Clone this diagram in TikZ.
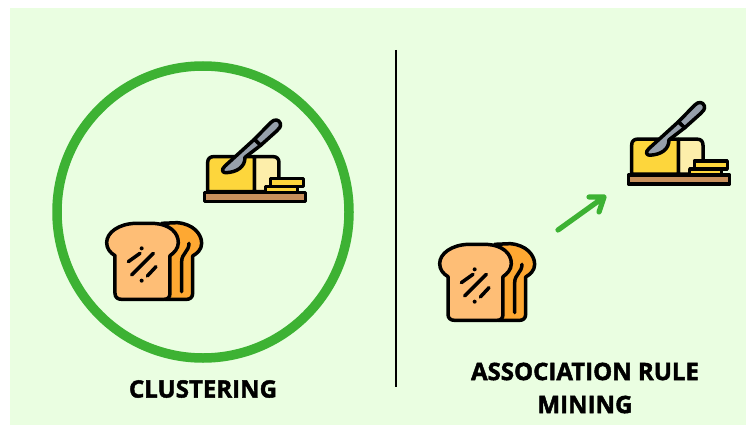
\documentclass[tikz,border=0pt]{standalone}
\usepackage{fontspec}
\setmainfont{Open Sans}[BoldFeatures={FakeBold=1.8}]
\usepackage{tikz}
\usetikzlibrary{arrows.meta, positioning}

\definecolor{panelgreen}{HTML}{EAFEE1}
\definecolor{ringgreen}{HTML}{3DB233}
\definecolor{crustorange}{HTML}{FEA832}
\definecolor{breadtan}{HTML}{FEBE76}
\definecolor{butteryellow}{HTML}{FDD63C}
\definecolor{butterpale}{HTML}{FDEEAA}
\definecolor{boardbrown}{HTML}{C78F5B}
\definecolor{knifegrey}{HTML}{969FAB}

\tikzset{
    ink/.style={draw=black, line width=3.5pt, line join=round, line cap=round},
    caption/.style={font=\fontsize{24}{33}\selectfont\bfseries, align=center, inner sep=0pt},
    toast/.pic={
        \begin{scope}[x=0.3333pt, y=-0.3333pt]
            % back slice
            \path[ink, fill=crustorange] (215,40) -- (262,38) .. controls (310,42) and (335,72) .. (335,100)
                .. controls (335,118) and (322,130) .. (308,138) -- (308,250)
                .. controls (308,262) and (300,268) .. (290,268) -- (225,268) -- cycle;
            \path[ink] (297,100) .. controls (297,125) and (275,130) .. (275,155) -- (275,245);
            % front slice
            \path[ink, fill=breadtan] (135,40) -- (188,40) .. controls (240,42) and (265,68) .. (265,98)
                .. controls (265,115) and (253,128) .. (240,137) -- (240,250)
                .. controls (240,262) and (233,268) .. (222,268) -- (95,268)
                .. controls (83,268) and (75,262) .. (75,250) -- (75,137)
                .. controls (60,128) and (50,115) .. (50,98)
                .. controls (50,68) and (85,42) .. (135,40) -- cycle;
            % crumbs
            \path[ink] (115,155) -- (150,130);
            \path[ink] (125,195) -- (190,130);
            \path[ink] (172,198) -- (198,170);
            \fill (155,115) circle (6);
            \fill (155,212) circle (6);
        \end{scope}
    },
    butterdish/.pic={
        \begin{scope}[x=0.3333pt, y=-0.3333pt]
            % block
            \path[ink, fill=butterpale] (178,140) -- (235,140) .. controls (246,140) and (252,147) .. (252,158)
                -- (252,245) -- (178,245) -- cycle;
            \path[ink, fill=butteryellow] (178,140) -- (55,140) .. controls (44,140) and (38,147) .. (38,158)
                -- (38,245) -- (178,245) -- cycle;
            % pats
            \path[ink, fill=butteryellow] (226,206) rectangle (325,229);
            \path[ink, fill=butteryellow] (212,229) rectangle (308,247);
            % board
            \path[ink, fill=boardbrown] (28,248) rectangle (332,274);
            % knife
            \path[ink, fill=knifegrey] (178,88) -- (227,38) .. controls (238,26) and (252,28) .. (256,40)
                .. controls (259,50) and (252,56) .. (245,63) -- (197,106) -- cycle;
            \path[ink, fill=knifegrey] (178,88) -- (90,168) .. controls (76,180) and (84,190) .. (95,188)
                .. controls (125,186) and (150,172) .. (150,142) -- (197,106) -- cycle;
        \end{scope}
    }
}

\begin{document}
\begin{tikzpicture}[x=1pt, y=-1pt]
    \useasboundingbox (0,0) rectangle (746,425);
    \fill[panelgreen] (10,8) rectangle (746,425);

    % left half
    \draw[ringgreen, line width=9.5pt] (203,212) circle (146);
    \pic at (90,210) {toast};
    \pic at (195,110) {butterdish};
    \node[caption] (clustering) at (203,389) {CLUSTERING};

    % divider
    \coordinate (divtop) at (396,50);
    \coordinate (divbot) at (396,387);
    \draw[line width=1.5pt] (divtop) -- (divbot);

    % right half
    \pic at (423,231) {toast};
    \pic at (619,92.5) {butterdish};
    \coordinate (arrowtail) at (558,230);
    \coordinate (arrowtip) at (604,197);
    \draw[ringgreen, line width=5.2pt, line cap=round, line join=round]
        (arrowtail) -- (arrowtip) (589,197) -- (arrowtip) -- (599,212);
    \node[caption] (rulemining) at (585,388) {ASSOCIATION RULE\\MINING};
\end{tikzpicture}
\end{document}
